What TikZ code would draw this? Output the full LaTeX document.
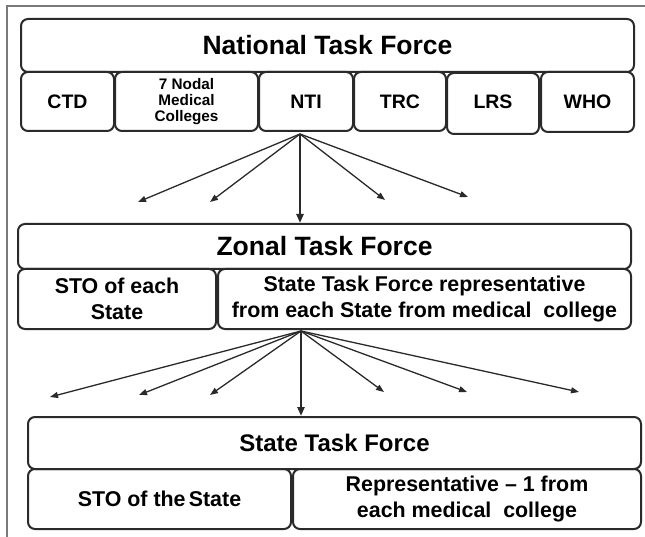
\documentclass[tikz,border=0pt]{standalone}
\usepackage{fontspec}
\setmainfont{Liberation Sans}
\usetikzlibrary{arrows.meta}
\definecolor{edge}{HTML}{2A2A2A}
\definecolor{frame}{HTML}{7A7A7A}
\tikzset{
  box/.style={draw=edge, line width=2pt, rounded corners=7pt, anchor=north west,
    inner sep=0pt, align=center, font=\bfseries, text=black},
  thinarrow/.style={draw=edge, line width=1.3pt, -{Triangle[length=8pt,width=6pt]}},
  thickarrow/.style={draw=edge, line width=2.4pt, -{Triangle[length=9pt,width=7pt]}},
  bigtext/.style={font=\bfseries\fontsize{26.5}{30}\selectfont},
  midtext/.style={font=\bfseries\fontsize{21.4}{25.5}\selectfont},
  rowtext/.style={font=\bfseries\fontsize{19.5}{22}\selectfont},
  smalltext/.style={font=\bfseries\fontsize{15.3}{16}\selectfont},
}
\begin{document}
\begin{tikzpicture}[x=1pt,y=-1pt]
\useasboundingbox (0,0) rectangle (645,537);
% outer frame (top and left)
\draw[frame, line width=1.2pt] (7,537) -- (7,6) -- (645,6);

% National level
\node[box, bigtext, minimum width=613pt, minimum height=53pt] (nat) at (20,18) {National Task Force};
\node[box, rowtext, minimum width=93pt, minimum height=59pt] (ctd) at (20,71) {CTD};
\node[box, smalltext, minimum width=143pt, minimum height=59pt] (nodal) at (114,71) {7 Nodal\\Medical\\Colleges};
\node[box, rowtext, minimum width=94pt, minimum height=59pt] (nti) at (258,71) {NTI};
\node[box, rowtext, minimum width=92pt, minimum height=59pt] (trc) at (353,71) {TRC};
\node[box, rowtext, minimum width=92pt, minimum height=61pt, text depth=3pt] (lrs) at (446,72) {LRS};
\node[box, rowtext, minimum width=93pt, minimum height=60pt] (who) at (540,71) {WHO};

% Zonal level
\node[box, bigtext, minimum width=613pt, minimum height=45pt] (zonal) at (17,223) {Zonal Task Force};
\node[box, midtext, minimum width=198pt, minimum height=60pt] (sto1) at (17,268) {STO of each\\State};
\node[box, midtext, minimum width=413pt, minimum height=60pt] (stfr) at (217,268) {State Task Force representative\\from each State from medical\ \ college};

% State level
\node[box, font=\bfseries\fontsize{24}{28}\selectfont, minimum width=613pt, minimum height=52pt] (state) at (27,416) {State Task Force};
\node[box, midtext, minimum width=263pt, minimum height=60pt] (sto2) at (27,468) {STO of the\hspace{0.15em}State};
\node[box, midtext, minimum width=348pt, minimum height=60pt] (rep) at (292,468) {Representative -- 1 from\\each medical\ \ college};

% arrows from national level
\coordinate (o1) at (300,134);
\coordinate (a1) at (138,202);
\coordinate (a2) at (210,202);
\coordinate (a3) at (385,200);
\coordinate (a4) at (468,197);
\foreach \t in {a1,a2,a3,a4} \draw[thinarrow] (o1) -- (\t);
\draw[thickarrow] (o1) -- (o1 |- zonal.north);

% arrows from zonal level
\coordinate (o2) at (301,331);
\coordinate (b1) at (50,397);
\coordinate (b2) at (139,395);
\coordinate (b3) at (210,395);
\coordinate (b4) at (384,392);
\coordinate (b5) at (467,392);
\coordinate (b6) at (579,392);
\foreach \t in {b1,b2,b3,b4,b5,b6} \draw[thinarrow] (o2) -- (\t);
\draw[thickarrow] (o2) -- (o2 |- state.north);
\end{tikzpicture}
\end{document}
